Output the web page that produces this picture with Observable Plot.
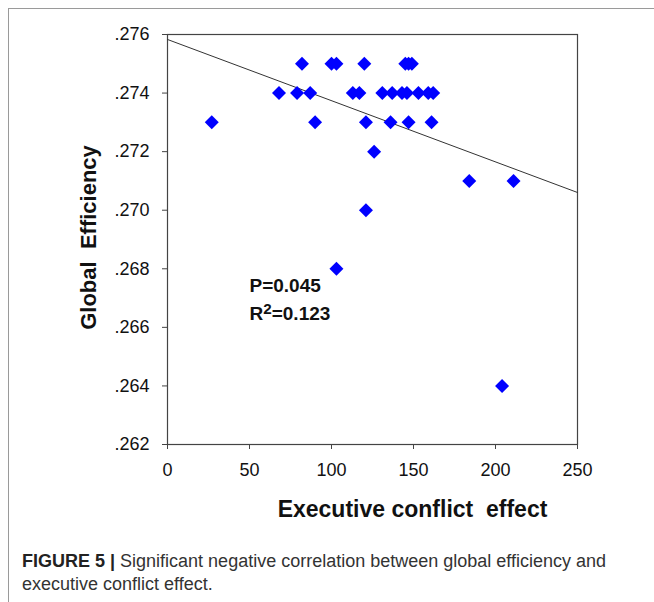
<!DOCTYPE html>
<html>
<head>
<meta charset="utf-8">
<script src="https://cdn.jsdelivr.net/npm/d3@7"></script>
<script src="https://cdn.jsdelivr.net/npm/@observablehq/plot@0.6"></script>
<style>
  html, body { margin: 0; padding: 0; background: #fff; }
  #wrap { position: relative; width: 654px; height: 602px; overflow: hidden; }
  #border { position: absolute; left: 8px; top: 8px; width: 700px; height: 700px;
            border-left: 1.5px solid #9a9a9a; border-top: 1.5px solid #9a9a9a; }
  #chart { position: absolute; left: 0; top: 0; }
  #caption { position: absolute; left: 22px; top: 550px; width: 600px;
             font-family: "Liberation Sans", Arial, sans-serif; font-size: 18px;
             line-height: 23px; color: #333; }
  #caption b { color: #222; }
</style>
</head>
<body>
<div id="wrap">
  <div id="border"></div>
  <div id="chart"></div>
  <div id="caption"><b>FIGURE 5 |</b> Significant negative correlation between global efficiency and executive conflict effect.</div>
</div>
<script>
// Data
const conflictEffect = [82, 100, 103, 120, 145, 147, 149,
  68, 79, 87, 113, 117, 131, 137, 143, 146, 153, 159, 162,
  27, 90, 121, 136, 147, 161,
  126, 184, 211, 121, 103, 204];
const globalEfficiency = [.275, .275, .275, .275, .275, .275, .275,
  .274, .274, .274, .274, .274, .274, .274, .274, .274, .274, .274, .274,
  .273, .273, .273, .273, .273, .273,
  .272, .271, .271, .270, .268, .264];
const xTicks = [0, 50, 100, 150, 200, 250];
const yTicks = [.262, .264, .266, .268, .270, .272, .274, .276];
const fitIntercept = 0.27583;
const fitSlope = -0.0000209;
const annotations = ["P=0.045", "R²=0.123"];
const annotationY = [0.26743, 0.26647];

const points = conflictEffect.map((x, i) => ({x, y: globalEfficiency[i]}));
const fitLine = [xTicks[0], xTicks[xTicks.length - 1]].map(x => ({x, y: fitIntercept + fitSlope * x}));
const notes = annotations.map((t, i) => ({t, x: 50, y: annotationY[i]}));

const fmtY = d => d3.format(".3f")(d).replace(/^0/, "");

const chart = Plot.plot({
  width: 654,
  height: 540,
  marginLeft: 167,
  marginRight: 77,
  marginTop: 34,
  marginBottom: 96,
  style: {fontFamily: "'Liberation Sans', Arial, sans-serif", background: "transparent", color: "#111"},
  x: {domain: [0, 250]},
  y: {domain: [.262, .276]},
  marks: [
    Plot.frame({stroke: "#444", strokeWidth: 1.2}),
    Plot.axisX({ticks: xTicks, tickSize: 5, tickPadding: 14, fontSize: 18, label: null, stroke: "#444"}),
    Plot.axisY({ticks: yTicks, tickSize: 5, tickPadding: 13, fontSize: 18, label: null, tickFormat: fmtY, stroke: "#444"}),
    Plot.line(fitLine, {x: "x", y: "y", stroke: "#333", strokeWidth: 1}),
    Plot.dot(points, {x: "x", y: "y", symbol: "diamond2", r: 6.3, fill: "#0000ff", stroke: "none"}),
    Plot.text(notes, {x: "x", y: "y", text: "t", textAnchor: "start", fontSize: 19, fontWeight: "bold", fill: "#111", className: "notes"}),
    Plot.text(["Executive conflict  effect"], {frameAnchor: "bottom", dx: 40, dy: 72, fontSize: 23, fontWeight: "bold", fill: "#111"}),
    Plot.text(["Global  Efficiency"], {frameAnchor: "left", textAnchor: "middle", dx: -79, dy: -2, rotate: -90, fontSize: 22, fontWeight: "bold", fill: "#111"})
  ]
});
// render the R² exponent as a raised superscript like the original
d3.select(chart).selectAll(".notes text").each(function() {
  const s = this.textContent;
  if (s.startsWith("R²")) {
    const t = d3.select(this);
    t.text("R");
    t.append("tspan").attr("dy", "-0.4em").attr("font-size", "0.8em").text("2");
    t.append("tspan").attr("dy", "0.32em").text(s.slice(2));
  }
});
document.getElementById("chart").appendChild(chart);
</script>
</body>
</html>
